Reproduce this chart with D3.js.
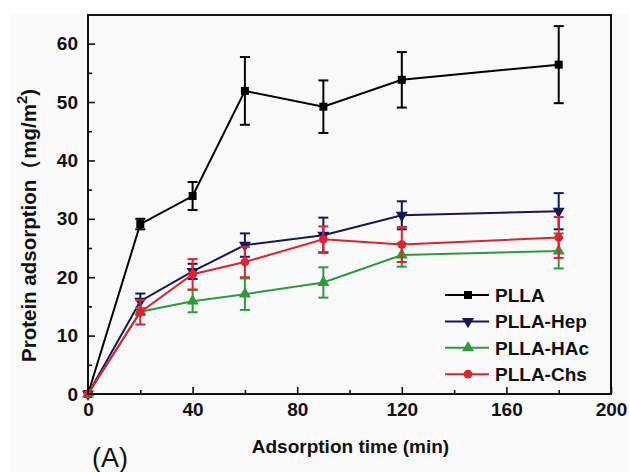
<!DOCTYPE html>
<html>
<head>
<meta charset="utf-8">
<script src="https://cdn.jsdelivr.net/npm/d3@7"></script>
<style>
  body { margin: 0; background: #ffffff; }
  text { font-family: Arial, "Liberation Sans", sans-serif; }
</style>
</head>
<body>
<div id="chart"></div>
<script>
var svgWidth = 629;
var svgHeight = 472;

var margin = { top: 15, right: 18, bottom: 78, left: 88 };
var width = svgWidth - margin.left - margin.right;
var height = svgHeight - margin.top - margin.bottom;

// data
var times = [0, 20, 40, 60, 90, 120, 180];
var seriesNames = ["PLLA", "PLLA-Hep", "PLLA-HAc", "PLLA-Chs"];
var pllaValues = [0, 29.1, 33.9, 51.9, 49.2, 53.8, 56.4];
var pllaErrors = [0, 0.9, 2.4, 5.8, 4.5, 4.75, 6.6];
var hepValues = [0, 15.9, 21.0, 25.5, 27.2, 30.6, 31.3];
var hepErrors = [0, 1.3, 1.3, 2.0, 3.0, 2.4, 3.1];
var hacValues = [0, 14.1, 15.9, 17.1, 19.1, 23.8, 24.5];
var hacErrors = [0, 0.6, 1.9, 2.7, 2.6, 2.0, 3.0];
var chsValues = [0, 14.0, 20.5, 22.6, 26.5, 25.6, 26.8];
var chsErrors = [0, 2.1, 2.6, 2.6, 2.2, 3.0, 3.5];
var xTicks = [0, 40, 80, 120, 160, 200];
var yTicks = [0, 10, 20, 30, 40, 50, 60];

var colors = ["#000000", "#16165a", "#2f9a3c", "#e3202e"];
var symbols = [d3.symbolSquare, "down", d3.symbolTriangle, d3.symbolCircle];

var series = [
  { name: seriesNames[0], values: pllaValues, errors: pllaErrors },
  { name: seriesNames[1], values: hepValues, errors: hepErrors },
  { name: seriesNames[2], values: hacValues, errors: hacErrors },
  { name: seriesNames[3], values: chsValues, errors: chsErrors }
];
series.forEach(function(s, i) {
  s.color = colors[i];
  s.symbol = symbols[i];
  s.points = times.map(function(t, j) { return { t: t, v: s.values[j], e: s.errors[j] }; });
});

var svg = d3.select("#chart")
  .append("svg")
  .attr("width", svgWidth)
  .attr("height", svgHeight);

svg.append("rect")
  .attr("x", 10).attr("y", 14)
  .attr("width", svgWidth - 10).attr("height", svgHeight - 14)
  .attr("fill", "#f9f9f9");

var chartGroup = svg.append("g")
  .attr("transform", `translate(${margin.left}, ${margin.top})`);

var x = d3.scaleLinear().domain([0, 200]).range([0, width]);
var y = d3.scaleLinear().domain([0, 64.9]).range([height, 0]);

// ticks point inward, minor ticks between majors
var bottomAxis = d3.axisBottom(x).tickValues(xTicks).tickSize(-7).tickPadding(9);
var bottomMinor = d3.axisBottom(x).tickValues([20, 60, 100, 140, 180]).tickSize(-4).tickFormat("");
var leftAxis = d3.axisLeft(y).tickValues(yTicks).tickSize(-7).tickPadding(10);
var leftMinor = d3.axisLeft(y).tickValues([5, 15, 25, 35, 45, 55]).tickSize(-4).tickFormat("");

function styleAxis(g) {
  g.select(".domain").remove();
  g.selectAll(".tick line").attr("stroke", "#111").attr("stroke-width", 1.6);
  g.selectAll(".tick text")
    .attr("fill", "#111")
    .attr("font-size", "19px")
    .attr("font-weight", "bold");
}

chartGroup.append("g").attr("transform", `translate(0, ${height})`).call(bottomAxis).call(styleAxis);
chartGroup.append("g").attr("transform", `translate(0, ${height})`).call(bottomMinor).call(styleAxis);
chartGroup.append("g").call(leftAxis).call(styleAxis);
chartGroup.append("g").call(leftMinor).call(styleAxis);

var line = d3.line().x(d => x(d.t)).y(d => y(d.v));

function symbolPath(sym) {
  if (sym === "down") return d3.symbol().type(d3.symbolTriangle).size(62)();
  if (sym === d3.symbolSquare) return d3.symbol().type(sym).size(64)();
  if (sym === d3.symbolTriangle) return d3.symbol().type(sym).size(62)();
  return d3.symbol().type(sym).size(60)();
}

series.forEach(function(s) {
  var g = chartGroup.append("g");
  g.append("path")
    .datum(s.points)
    .attr("d", line)
    .attr("fill", "none")
    .attr("stroke", s.color)
    .attr("stroke-width", 2);

  var eb = g.selectAll(".err").data(s.points.filter(d => d.e > 0)).enter().append("g");
  eb.append("line")
    .attr("x1", d => x(d.t)).attr("x2", d => x(d.t))
    .attr("y1", d => y(d.v + d.e)).attr("y2", d => y(d.v - d.e))
    .attr("stroke", s.color).attr("stroke-width", 2);
  [1, -1].forEach(function(sign) {
    eb.append("line")
      .attr("x1", d => x(d.t) - 5).attr("x2", d => x(d.t) + 5)
      .attr("y1", d => y(d.v + sign * d.e)).attr("y2", d => y(d.v + sign * d.e))
      .attr("stroke", s.color).attr("stroke-width", 2);
  });

  g.selectAll(".pt").data(s.points).enter().append("path")
    .attr("d", symbolPath(s.symbol))
    .attr("transform", d => `translate(${x(d.t)}, ${y(d.v)})` + (s.symbol === "down" ? " rotate(180)" : ""))
    .attr("fill", s.color);
});

// frame
chartGroup.append("rect")
  .attr("width", width).attr("height", height)
  .attr("fill", "none").attr("stroke", "#111").attr("stroke-width", 2);

// legend
var legend = chartGroup.append("g").attr("transform", `translate(${445 - margin.left}, ${295 - margin.top})`);
series.forEach(function(s, i) {
  var row = legend.append("g").attr("transform", `translate(0, ${i * 26.4})`);
  row.append("line").attr("x1", 0).attr("x2", 44).attr("y1", 0).attr("y2", 0)
    .attr("stroke", s.color).attr("stroke-width", 2);
  row.append("path")
    .attr("d", symbolPath(s.symbol))
    .attr("transform", "translate(23, 0)" + (s.symbol === "down" ? " rotate(180)" : ""))
    .attr("fill", s.color);
  row.append("text")
    .attr("x", 50).attr("y", 7)
    .attr("font-size", "19px").attr("font-weight", "bold").attr("fill", "#111")
    .text(s.name);
});

// axis titles
chartGroup.append("text")
  .attr("x", width / 2 + 1)
  .attr("y", height + 59)
  .attr("text-anchor", "middle")
  .attr("font-size", "19px").attr("font-weight", "bold").attr("fill", "#111")
  .text("Adsorption time (min)");

var yTitle = svg.append("text")
  .attr("transform", "translate(36, 362) rotate(-90)")
  .attr("text-anchor", "start")
  .attr("font-size", "20.5px").attr("font-weight", "bold").attr("fill", "#111");
yTitle.append("tspan").text("Protein adsorption（mg/m");
yTitle.append("tspan").attr("dy", -9).attr("font-size", "15px").text("2");
yTitle.append("tspan").attr("dy", 9).text(")");

svg.append("text")
  .attr("x", 92).attr("y", 467)
  .attr("font-size", "27px").attr("fill", "#111")
  .text("(A)");
</script>
</body>
</html>
